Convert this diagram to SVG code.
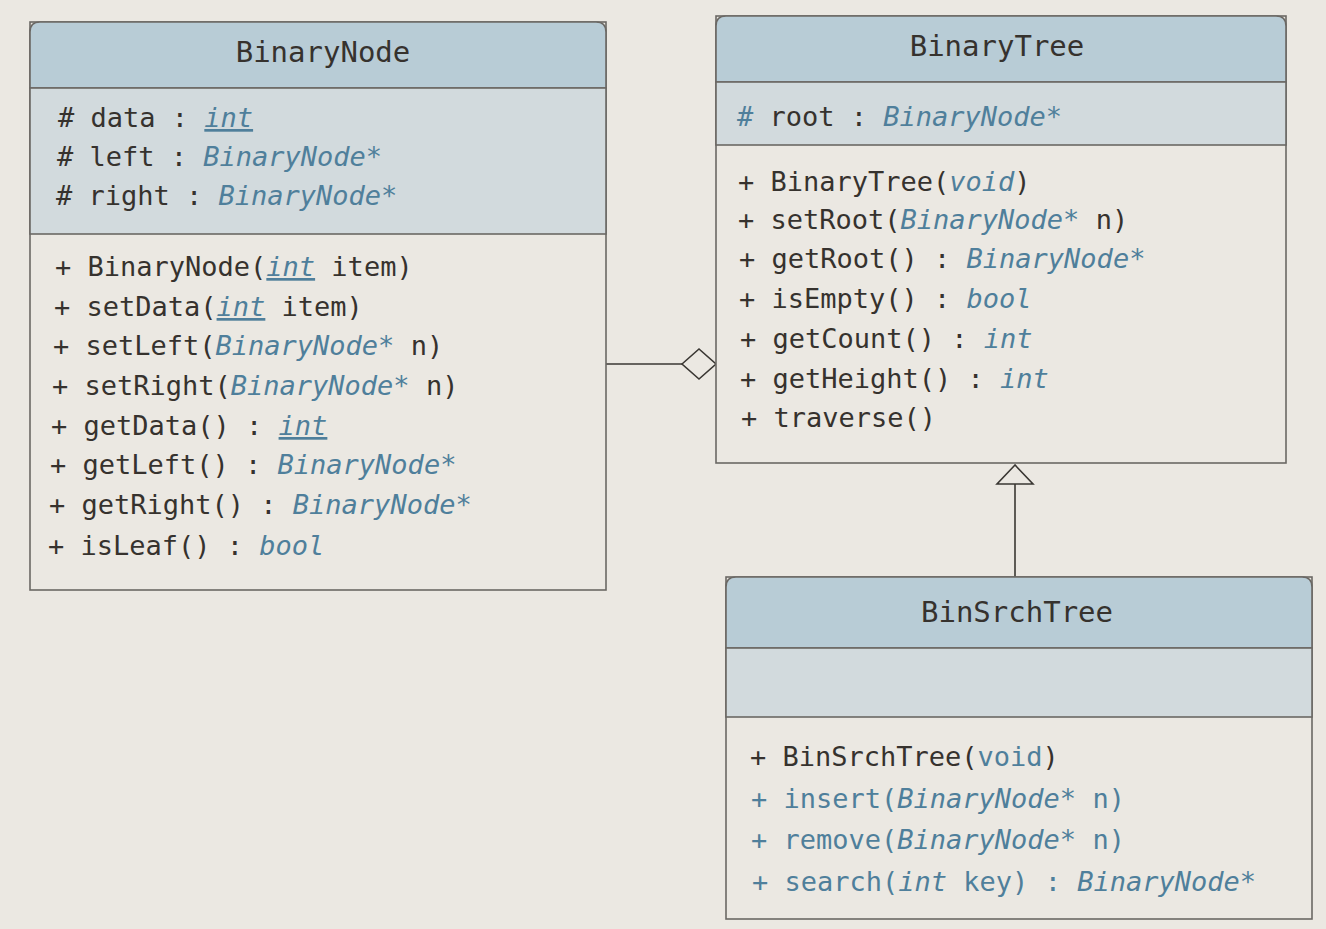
<svg xmlns="http://www.w3.org/2000/svg" width="1326" height="929" viewBox="0 0 1326 929">
<style>
.bg{fill:#ebe8e2}
.box{fill:#ebe8e2;stroke:#6b6864;stroke-width:1.6}
.hdr{fill:#b8ccd6;stroke:#6b6864;stroke-width:1.6}
.att{fill:#d2dadd;stroke:#6b6864;stroke-width:1.6}
.m{font-family:"DejaVu Sans Mono","Liberation Mono",monospace;font-size:27px;fill:#36322e}
.h{font-size:29px;text-anchor:middle}
.b{fill:#4f7f9b}
.t{fill:#4f7f9b;font-style:italic}
.u{text-decoration:underline}
.ln{fill:none;stroke:#3a3733;stroke-width:1.6}
.hd{fill:#ebe8e2;stroke:#3a3733;stroke-width:1.6}
</style>
<rect class="bg" x="0" y="0" width="1326" height="929"/>

<g id="connectors">
  <line class="ln" x1="606" y1="364" x2="682" y2="364"/>
  <polygon class="hd" points="682,364 699,349 716,364 699,379"/>
  <line class="ln" x1="1015" y1="577" x2="1015" y2="484"/>
  <polygon class="hd" points="1015,465 997,484 1033,484"/>
</g>

<g id="BinaryNode">
  <rect class="box" x="30" y="22" width="576" height="568"/>
  <path class="hdr" d="M30,88 V32 Q30,22 40,22 H596 Q606,22 606,32 V88 Z"/>
  <rect class="att" x="30" y="88" width="576" height="146"/>
  <text class="m h" x="323" y="62">BinaryNode</text>
  <text class="m" x="58" y="127"># data : <tspan class="t u">int</tspan></text>
  <text class="m" x="57" y="166"># left : <tspan class="t">BinaryNode*</tspan></text>
  <text class="m" x="56" y="205"># right : <tspan class="t">BinaryNode*</tspan></text>
  <text class="m" x="55" y="276">+ BinaryNode(<tspan class="t u">int</tspan> item)</text>
  <text class="m" x="54" y="316">+ setData(<tspan class="t u">int</tspan> item)</text>
  <text class="m" x="53" y="355">+ setLeft(<tspan class="t">BinaryNode*</tspan> n)</text>
  <text class="m" x="52" y="395">+ setRight(<tspan class="t">BinaryNode*</tspan> n)</text>
  <text class="m" x="51" y="435">+ getData() : <tspan class="t u">int</tspan></text>
  <text class="m" x="50" y="474">+ getLeft() : <tspan class="t">BinaryNode*</tspan></text>
  <text class="m" x="49" y="514">+ getRight() : <tspan class="t">BinaryNode*</tspan></text>
  <text class="m" x="48" y="555">+ isLeaf() : <tspan class="t">bool</tspan></text>
</g>

<g id="BinaryTree">
  <rect class="box" x="716" y="16" width="570" height="447"/>
  <path class="hdr" d="M716,82 V26 Q716,16 726,16 H1276 Q1286,16 1286,26 V82 Z"/>
  <rect class="att" x="716" y="82" width="570" height="63"/>
  <text class="m h" x="997" y="56">BinaryTree</text>
  <text class="m" x="737" y="126"><tspan class="b">#</tspan> root : <tspan class="t">BinaryNode*</tspan></text>
  <text class="m" x="738" y="191">+ BinaryTree(<tspan class="t">void</tspan>)</text>
  <text class="m" x="738" y="229">+ setRoot(<tspan class="t">BinaryNode*</tspan> n)</text>
  <text class="m" x="739" y="268">+ getRoot() : <tspan class="t">BinaryNode*</tspan></text>
  <text class="m" x="739" y="308">+ isEmpty() : <tspan class="t">bool</tspan></text>
  <text class="m" x="740" y="348">+ getCount() : <tspan class="t">int</tspan></text>
  <text class="m" x="740" y="388">+ getHeight() : <tspan class="t">int</tspan></text>
  <text class="m" x="741" y="427">+ traverse()</text>
</g>

<g id="BinSrchTree">
  <rect class="box" x="726" y="577" width="586" height="342"/>
  <path class="hdr" d="M726,648 V587 Q726,577 736,577 H1302 Q1312,577 1312,587 V648 Z"/>
  <rect class="att" x="726" y="648" width="586" height="69"/>
  <text class="m h" x="1017" y="622">BinSrchTree</text>
  <text class="m" x="750" y="766">+ BinSrchTree(<tspan class="b">void</tspan>)</text>
  <text class="m b" x="751" y="808">+ insert(<tspan class="t">BinaryNode*</tspan> n)</text>
  <text class="m b" x="751" y="849">+ remove(<tspan class="t">BinaryNode*</tspan> n)</text>
  <text class="m b" x="752" y="891">+ search(<tspan class="t">int</tspan> key) : <tspan class="t">BinaryNode*</tspan></text>
</g>
</svg>
